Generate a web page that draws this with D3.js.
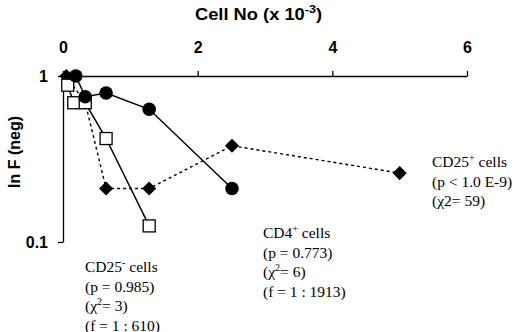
<!DOCTYPE html>
<html>
<head>
<meta charset="utf-8">
<script src="https://cdn.jsdelivr.net/npm/d3@7/dist/d3.min.js"></script>
<style>
  body { margin: 0; background: #fff; }
  svg { display: block; }
  .ax text { font-family: Arial, "Liberation Sans", sans-serif; font-weight: bold; font-size: 16px; fill: #000; }
  .ax path, .ax line { stroke: #000; stroke-width: 1.3; }
  .note { font-family: "Liberation Serif", "Times New Roman", serif; font-size: 15.5px; fill: #000; }
</style>
</head>
<body>
<svg id="chart" width="520" height="332"></svg>
<script>
// cell number (x 10^-3) and fraction of negative wells
const cd4X = [0.19, 0.33, 0.64, 1.28, 2.51]
const cd4Y = [1.0, 0.75, 0.79, 0.63, 0.21]

const cd25negX = [0.07, 0.16, 0.33, 0.64, 1.28]
const cd25negY = [0.88, 0.69, 0.69, 0.42, 0.125]

const cd25posX = [0.05, 0.33, 0.64, 1.28, 2.51, 5.0]
const cd25posY = [1.0, 0.69, 0.21, 0.21, 0.38, 0.26]

const xTicks = [0, 2, 4, 6]
const yTicks = [1, 0.1]

const svg = d3.select('#chart')

const x = d3.scaleLinear().domain([0, 6]).range([63, 467])
const y = d3.scaleLog().domain([0.1, 1]).range([242, 76])

const zip = (xs, ys) => xs.map((v, i) => [v, ys[i]])
const cd4 = zip(cd4X, cd4Y)
const cd25neg = zip(cd25negX, cd25negY)
const cd25pos = zip(cd25posX, cd25posY)

// axes
svg.append('g')
  .attr('class', 'ax')
  .attr('transform', `translate(0,${y(1)})`)
  .call(d3.axisTop(x).tickValues(xTicks).tickSize(5).tickPadding(18).tickSizeOuter(0).tickFormat(d3.format('d')))

svg.append('g')
  .attr('class', 'ax')
  .attr('transform', `translate(${x(0)},0)`)
  .call(d3.axisLeft(y).tickValues(yTicks).tickSize(5).tickPadding(10).tickSizeOuter(0).tickFormat(d => d))

// titles
const xt = svg.append('text')
  .attr('x', 195).attr('y', 20)
  .attr('textLength', 127).attr('lengthAdjust', 'spacingAndGlyphs')
  .style('font-family', 'Arial, "Liberation Sans", sans-serif')
  .style('font-weight', 'bold').style('font-size', '16px')
xt.append('tspan').text('Cell No (x 10')
xt.append('tspan').attr('dy', -7).style('font-size', '11px').text('-3')
xt.append('tspan').attr('dy', 7).text(')')

svg.append('text')
  .attr('transform', 'translate(20,152) rotate(-90)')
  .attr('text-anchor', 'middle')
  .style('font-family', 'Arial, "Liberation Sans", sans-serif')
  .style('font-weight', 'bold').style('font-size', '16px')
  .text('ln F (neg)')

const line = d3.line().x(d => x(d[0])).y(d => y(d[1]))

// CD25+ (dotted, diamonds) drawn underneath
svg.append('path')
  .datum(cd25pos)
  .attr('d', line)
  .attr('fill', 'none').attr('stroke', '#000')
  .attr('stroke-width', 1.4).attr('stroke-dasharray', '3,3')

svg.append('g').selectAll('path')
  .data(cd25pos)
  .join('path')
  .attr('d', d3.symbol(d3.symbolSquare, 100))
  .attr('transform', d => `translate(${x(d[0])},${y(d[1])}) rotate(45)`)
  .attr('fill', '#000')

// CD25- (solid, open squares)
svg.append('path')
  .datum(cd25neg)
  .attr('d', line)
  .attr('fill', 'none').attr('stroke', '#000').attr('stroke-width', 1.5)

svg.append('g').selectAll('rect')
  .data(cd25neg)
  .join('rect')
  .attr('x', d => x(d[0]) - 6).attr('y', d => y(d[1]) - 6)
  .attr('width', 12).attr('height', 12)
  .attr('fill', '#fff').attr('stroke', '#000').attr('stroke-width', 1.3)

// CD4+ (solid, filled circles)
svg.append('path')
  .datum(cd4)
  .attr('d', line)
  .attr('fill', 'none').attr('stroke', '#000').attr('stroke-width', 1.5)

svg.append('g').selectAll('circle')
  .data(cd4)
  .join('circle')
  .attr('cx', d => x(d[0])).attr('cy', d => y(d[1]))
  .attr('r', 6.8)
  .attr('fill', '#000')

// annotations
function note (x0, y0, lines) {
  const t = svg.append('text').attr('class', 'note')
  lines.forEach((parts, i) => {
    parts.forEach((p, j) => {
      const s = t.append('tspan').text(p[0])
      if (j === 0) s.attr('x', x0).attr('y', y0 + i * 19.5)
      if (p[1] === 'sup') s.attr('dy', -6).style('font-size', '10px')
      else if (j > 0 && parts[j - 1][1] === 'sup') s.attr('dy', 6)
    })
  })
}

note(85, 272, [
  [['CD25'], ['-', 'sup'], [' cells']],
  [['(p = 0.985)']],
  [['(\u03c7'], ['2', 'sup'], ['= 3)']],
  [['(f = 1 : 610)']]
])

note(263, 238, [
  [['CD4'], ['+', 'sup'], [' cells']],
  [['(p = 0.773)']],
  [['(\u03c7'], ['2', 'sup'], ['= 6)']],
  [['(f = 1 : 1913)']]
])

note(432, 167, [
  [['CD25'], ['+', 'sup'], [' cells']],
  [['(p < 1.0 E-9)']],
  [['(\u03c72= 59)']]
])
</script>
</body>
</html>
